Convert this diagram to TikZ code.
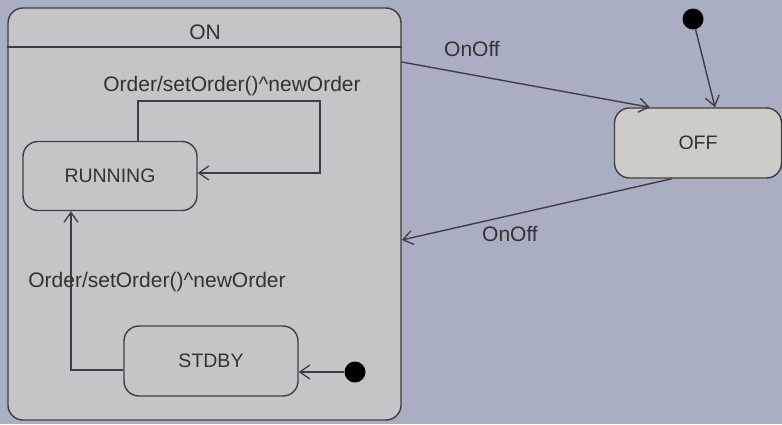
\documentclass[tikz,border=0pt]{standalone}
\usepackage{fontspec}
\setmainfont{Liberation Sans}
\usetikzlibrary{arrows.meta,calc}
\definecolor{bgc}{RGB}{170,174,194}
\definecolor{onfill}{RGB}{197,197,200}
\definecolor{offfill}{RGB}{205,204,198}
\definecolor{ln}{RGB}{62,62,66}
\definecolor{txt}{RGB}{50,50,52}
\begin{document}
\begin{tikzpicture}[x=1pt,y=-1pt,
  every node/.style={font=\fontsize{19.5}{22}\selectfont, text=txt},
  statebox/.style={draw=ln, line width=1.4pt, rounded corners=15pt, fill=onfill, inner sep=0pt},
  initdot/.style={circle, fill=black, minimum size=21pt, inner sep=0pt},
  arr/.style={draw=ln, line width=1.4pt, -{Straight Barb[length=10pt,width=14pt,line width=1.3pt]}},
  lbl/.style={inner sep=1pt, font=\fontsize{21}{24}\selectfont}]
\fill[bgc] (0,0) rectangle (782,424);
\useasboundingbox (0,0) rectangle (782,424);
% composite ON state
\node[statebox, minimum width=393pt, minimum height=412pt] (ON) at (204.5,214) {};
\coordinate (hl) at (0,47);
\draw[ln, line width=1.4pt] (ON.west |- hl) -- (ON.east |- hl);
\node[lbl] (ONt) at (205,32) {ON};
% substates
\node[statebox, minimum width=174pt, minimum height=69pt] (RUN) at (110,176) {RUNNING};
\node[statebox, minimum width=174pt, minimum height=70pt] (STD) at (211,361) {STDBY};
\node[statebox, fill=offfill, minimum width=167pt, minimum height=70pt] (OFF) at (698,143) {OFF};
% initial pseudostates
\node[initdot] (i1) at (693,19) {};
\node[initdot] (i2) at (355,372) {};
% self loop on RUNNING
\coordinate (s1) at (138,0);
\coordinate (s2) at (320,101);
\coordinate (s3) at (0,173);
\draw[arr] (RUN.north -| s1) |- (s2) |- (RUN.east |- s3);
\node[lbl] (l1) at (232,86) {Order/setOrder()\^{}newOrder};
% STDBY -> RUNNING
\coordinate (t1) at (0,370);
\coordinate (t2) at (71,0);
\draw[arr] (STD.west |- t1) -| (RUN.south -| t2);
\node[lbl] (l2) at (157,282) {Order/setOrder()\^{}newOrder};
% initial -> STDBY
\draw[arr] (i2) -- (STD.east |- i2);
% initial -> OFF
\draw[arr] (i1) -- ([xshift=17pt]OFF.north);
% ON -> OFF
\coordinate (o1) at (0,62);
\draw[arr] (ON.east |- o1) -- ([xshift=-48pt]OFF.north);
\node[lbl] (l3) at (472,49) {OnOff};
% OFF -> ON
\coordinate (o2) at (0,240);
\draw[arr] ([xshift=-26pt]OFF.south) -- (ON.east |- o2);
\node[lbl] (l4) at (510,234) {OnOff};
\end{tikzpicture}
\end{document}
